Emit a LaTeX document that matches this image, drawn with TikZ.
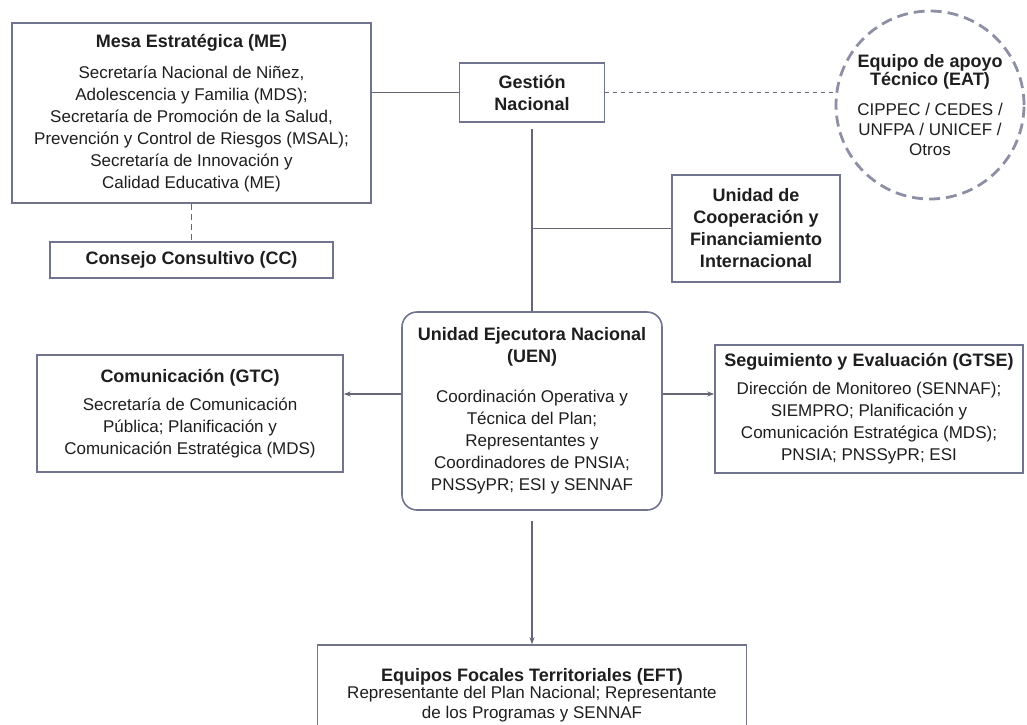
\documentclass[tikz,border=0pt]{standalone}
\usepackage{fontspec}
\setmainfont{Liberation Sans}
\usetikzlibrary{arrows.meta}
\definecolor{boxline}{RGB}{112,116,142}
\definecolor{linkline}{RGB}{100,102,118}
\definecolor{ink}{RGB}{30,30,30}
\tikzset{
  box/.style = {draw=boxline, line width=1.6pt, fill=white, text=ink, align=center,
    inner sep=3pt, font=\fontsize{17}{22}\selectfont},
  roundbox/.style = {box, rounded corners=15pt},
  ring/.style = {circle, draw=boxline!80, line width=2.8pt, dash pattern=on 11pt off 6pt,
    text=ink, align=center, inner sep=0pt, font=\fontsize{17}{20}\selectfont},
  link/.style = {draw=linkline, line width=1.1pt},
  dlink/.style = {link, dash pattern=on 4pt off 4pt},
  arr/.style = {link, -{Stealth[length=7pt,width=5pt]}}
}
\newcommand{\hd}[1]{{\bfseries\fontsize{18}{22}\selectfont #1}}

\begin{document}
\begin{tikzpicture}[x=1pt,y=-1pt]
  \clip (0,0) rectangle (1027,724);
  \pgfmathsetmacro{\xmid}{532}      % x of the central column
  \pgfmathsetmacro{\xleft}{191.5}   % x of the left column
  \pgfmathsetmacro{\yside}{17}      % lift of the side arrows
  % boxes
  \node[box, minimum width=359pt, minimum height=180pt] (me) at (\xleft,113)
    {\hd{Mesa Estratégica (ME)}\\[9pt]
     Secretaría Nacional de Niñez,\\
     Adolescencia y Familia (MDS);\\
     Secretaría de Promoción de la Salud,\\
     Prevención y Control de Riesgos (MSAL);\\
     Secretaría de Innovación y\\
     Calidad Educativa (ME)};
  \node[box, minimum width=283pt, minimum height=36pt] (cc) at (\xleft,260)
    {\hd{Consejo Consultivo (CC)}};
  \node[box, minimum width=145pt, minimum height=59pt] (gn) at (\xmid,92.5)
    {\hd{Gestión}\\\hd{Nacional}};
  \node[ring, minimum size=188pt] (eat) at (930,105)
    {\hd{Equipo de apoyo}\\[-2pt]\hd{Técnico (EAT)}\\[10pt]
     CIPPEC / CEDES /\\UNFPA / UNICEF /\\Otros};
  \node[box, minimum width=168pt, minimum height=107pt] (ucfi) at (756,228.5)
    {\hd{Unidad de}\\\hd{Cooperación y}\\\hd{Financiamiento}\\\hd{Internacional}};
  \node[roundbox, minimum width=260pt, minimum height=198pt] (uen) at (\xmid,411)
    {\hd{Unidad Ejecutora Nacional}\\\hd{(UEN)}\\[18pt]
     Coordinación Operativa y\\
     Técnica del Plan;\\
     Representantes y\\
     Coordinadores de PNSIA;\\
     PNSSyPR; ESI y SENNAF};
  \node[box, minimum width=306pt, minimum height=117pt] (gtc) at (190,413.5)
    {\hd{Comunicación (GTC)}\\[6pt]
     Secretaría de Comunicación\\
     Pública; Planificación y\\
     Comunicación Estratégica (MDS)};
  \node[box, minimum width=308pt, minimum height=128pt] (gtse) at (869,409)
    {\hd{Seguimiento y Evaluación (GTSE)}\\[6pt]
     Dirección de Monitoreo (SENNAF);\\
     SIEMPRO; Planificación y\\
     Comunicación Estratégica (MDS);\\
     PNSIA; PNSSyPR; ESI};
  \node[box, minimum width=429pt, minimum height=100pt,
        font=\fontsize{17}{20}\selectfont] (eft) at (\xmid,695)
    {\hd{Equipos Focales Territoriales (EFT)}\\[-3pt]
     Representante del Plan Nacional; Representante\\
     de los Programas y SENNAF};
  % links
  \path[link] (me.east |- gn.west) -- (gn.west);
  \path[dlink] (gn.east) -- (gn.east -| eat.west);
  \path[link, dash pattern=on 6pt off 4pt, line width=1.6pt] (me.south) -- (cc.north);
  \path[link, shorten <=6pt] (gn.south) -- (uen.north);
  \path[link] (uen.north |- ucfi.west) -- (ucfi.west);
  % arrows
  \path[arr] ([yshift=\yside pt]uen.west) -- ([yshift=\yside pt]uen.west -| gtc.east);
  \path[arr] ([yshift=\yside pt]uen.east) -- ([yshift=\yside pt]uen.east -| gtse.west);
  \path[arr, shorten <=10pt] (uen.south) -- (eft.north);
\end{tikzpicture}
\end{document}
